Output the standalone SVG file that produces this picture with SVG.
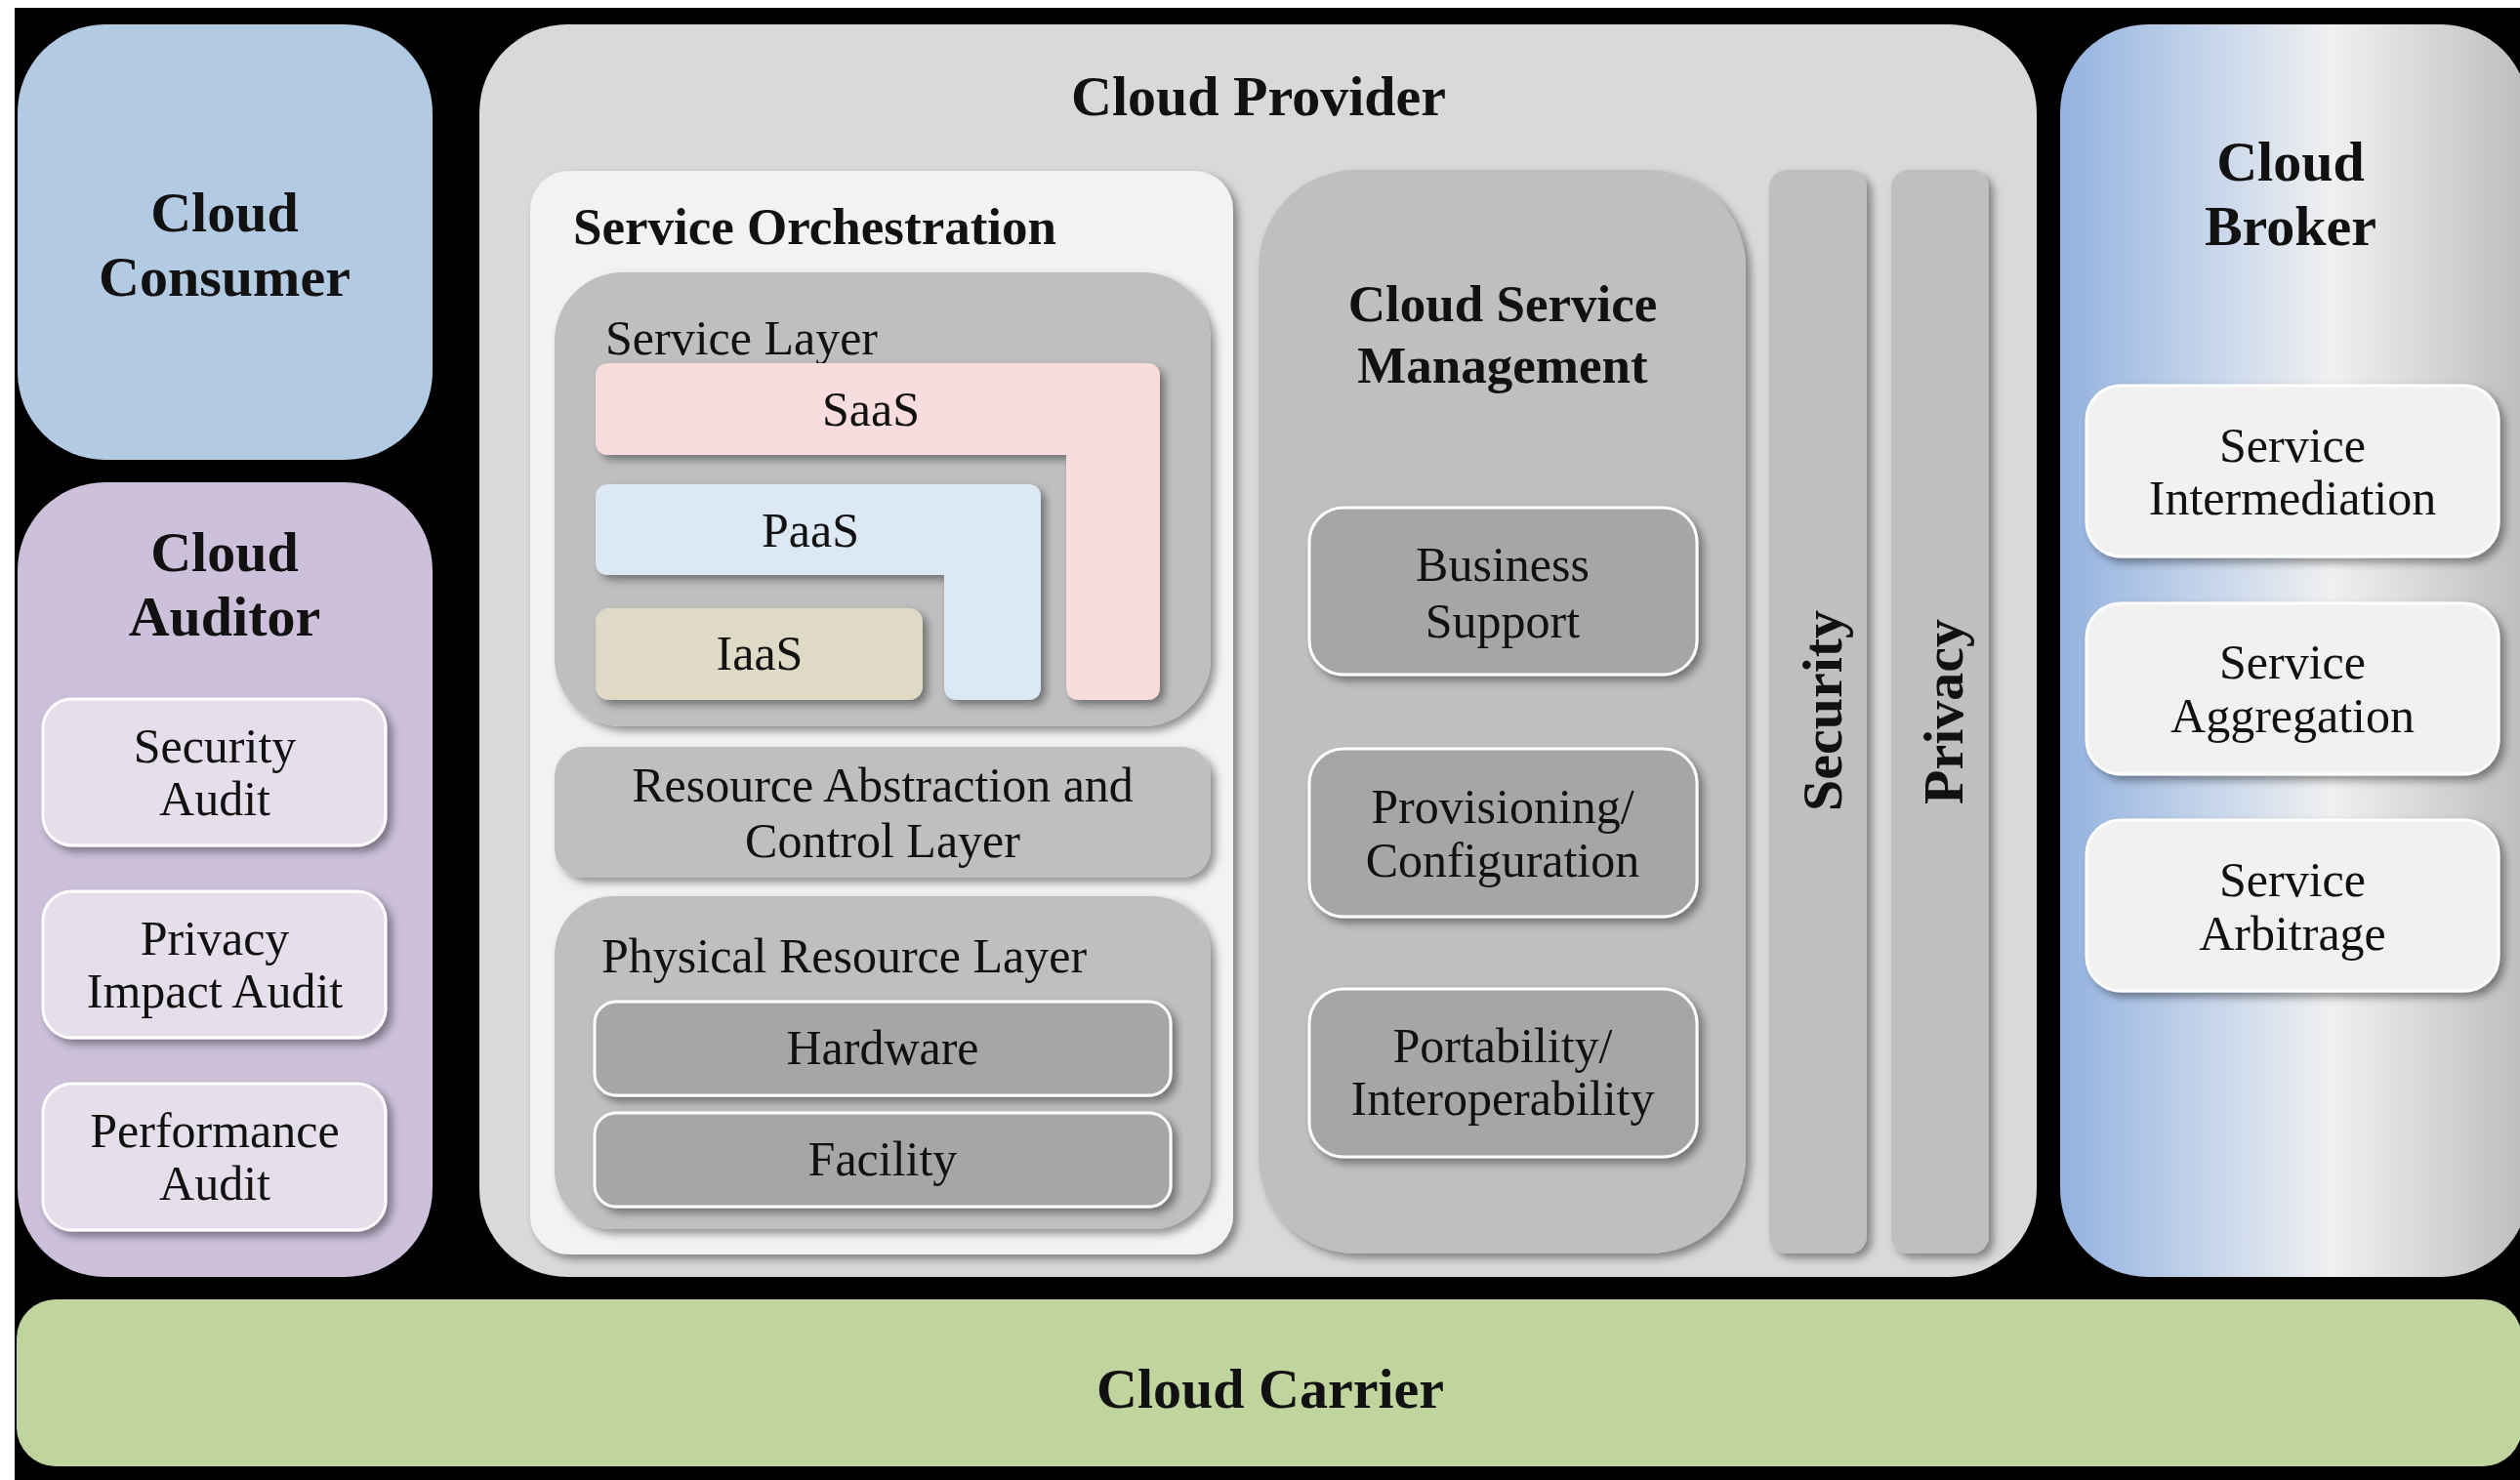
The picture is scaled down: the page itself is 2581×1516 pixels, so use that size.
<svg xmlns="http://www.w3.org/2000/svg" width="2581" height="1516" viewBox="0 0 2581 1516">
<defs>
<linearGradient id="brokerGrad" x1="0" y1="0" x2="1" y2="0">
<stop offset="0" stop-color="#93b2e0"/>
<stop offset="0.3" stop-color="#c3d3ea"/>
<stop offset="0.58" stop-color="#f0f0f0"/>
<stop offset="1" stop-color="#bcbcbc"/>
</linearGradient>
<filter id="sh" x="-10%" y="-10%" width="125%" height="125%">
<feDropShadow dx="5" dy="5" stdDeviation="4" flood-color="#000" flood-opacity="0.4"/>
</filter>
</defs>
<style>
.t{font-family:"Liberation Serif","Times New Roman",serif;fill:#111;}
.title{font-size:58px;font-weight:bold;text-anchor:middle;}
.bold{font-size:53px;font-weight:bold;}
.reg{font-size:50px;}
.mid{text-anchor:middle;}
.inner{filter:url(#sh);}
.wb{stroke:#ffffff;stroke-width:3;}
</style>
<rect x="0" y="0" width="2581" height="1516" fill="#ffffff"/>
<rect x="15" y="8" width="2566" height="1508" fill="#000000"/>

<g id="cloud-consumer">
<rect x="18" y="25" width="425" height="446" rx="90" fill="#b3cae3"/>
<text class="t title" x="230" y="237">Cloud</text>
<text class="t title" x="230" y="303">Consumer</text>
</g>

<g id="cloud-auditor">
<rect x="18" y="494" width="425" height="814" rx="90" fill="#ccc0da"/>
<text class="t title" x="230" y="585">Cloud</text>
<text class="t title" x="230" y="651">Auditor</text>
<g id="security-audit">
<rect class="inner wb" x="44" y="716" width="351" height="150" rx="30" fill="#e5dfec"/>
<text class="t reg mid" x="220" y="781">Security</text>
<text class="t reg mid" x="220" y="835">Audit</text>
</g>
<g id="privacy-impact-audit">
<rect class="inner wb" x="44" y="913" width="351" height="150" rx="30" fill="#e5dfec"/>
<text class="t reg mid" x="220" y="978">Privacy</text>
<text class="t reg mid" x="220" y="1032">Impact Audit</text>
</g>
<g id="performance-audit">
<rect class="inner wb" x="44" y="1110" width="351" height="150" rx="30" fill="#e5dfec"/>
<text class="t reg mid" x="220" y="1175">Performance</text>
<text class="t reg mid" x="220" y="1229">Audit</text>
</g>
</g>

<g id="cloud-provider">
<rect x="491" y="25" width="1595" height="1283" rx="90" fill="#d9d9d9"/>
<text class="t title" x="1289" y="118">Cloud Provider</text>

<g id="service-orchestration">
<rect class="inner" x="543" y="175" width="720" height="1110" rx="40" fill="#f2f2f2"/>
<text class="t bold" x="587" y="250">Service Orchestration</text>

<g id="service-layer">
<rect class="inner" x="568" y="279" width="672" height="465" rx="70" fill="#bfbfbf"/>
<text class="t reg" x="620" y="363">Service Layer</text>
<g id="saas">
<path class="inner" d="M 624 372 H 1174 Q 1188 372 1188 386 V 703 Q 1188 717 1174 717 H 1106 Q 1092 717 1092 703 V 466 H 624 Q 610 466 610 452 V 386 Q 610 372 624 372 Z" fill="#f9dcdd"/>
<text class="t reg mid" x="892" y="436">SaaS</text>
</g>
<g id="paas">
<path class="inner" d="M 624 496 H 1052 Q 1066 496 1066 510 V 703 Q 1066 717 1052 717 H 981 Q 967 717 967 703 V 589 H 624 Q 610 589 610 575 V 510 Q 610 496 624 496 Z" fill="#dce8f4"/>
<text class="t reg mid" x="830" y="560">PaaS</text>
</g>
<g id="iaas">
<rect class="inner" x="610" y="623" width="335" height="94" rx="14" fill="#dfdac5"/>
<text class="t reg mid" x="778" y="686">IaaS</text>
</g>
</g>

<g id="resource-abstraction">
<rect class="inner" x="568" y="765" width="672" height="134" rx="30" fill="#bfbfbf"/>
<text class="t reg mid" x="904" y="821">Resource Abstraction and</text>
<text class="t reg mid" x="904" y="878">Control Layer</text>
</g>

<g id="physical-resource-layer">
<rect class="inner" x="568" y="918" width="672" height="341" rx="60" fill="#bfbfbf"/>
<text class="t reg" x="616" y="996">Physical Resource Layer</text>
<g id="hardware">
<rect class="inner wb" x="609" y="1026" width="590" height="96" rx="22" fill="#a6a6a6"/>
<text class="t reg mid" x="904" y="1090">Hardware</text>
</g>
<g id="facility">
<rect class="inner wb" x="609" y="1140" width="590" height="96" rx="22" fill="#a6a6a6"/>
<text class="t reg mid" x="904" y="1204">Facility</text>
</g>
</g>
</g>

<g id="cloud-service-management">
<rect class="inner" x="1289" y="174" width="499" height="1110" rx="100" fill="#bfbfbf"/>
<text class="t bold mid" x="1539" y="329">Cloud Service</text>
<text class="t bold mid" x="1539" y="392">Management</text>
<g id="business-support">
<rect class="inner wb" x="1341" y="520" width="397" height="171" rx="35" fill="#a6a6a6"/>
<text class="t reg mid" x="1539" y="595">Business</text>
<text class="t reg mid" x="1539" y="653">Support</text>
</g>
<g id="provisioning-configuration">
<rect class="inner wb" x="1341" y="767" width="397" height="172" rx="35" fill="#a6a6a6"/>
<text class="t reg mid" x="1539" y="843">Provisioning/</text>
<text class="t reg mid" x="1539" y="898">Configuration</text>
</g>
<g id="portability-interoperability">
<rect class="inner wb" x="1341" y="1013" width="397" height="172" rx="35" fill="#a6a6a6"/>
<text class="t reg mid" x="1539" y="1088">Portability/</text>
<text class="t reg mid" x="1539" y="1142">Interoperability</text>
</g>
</g>

<g id="security">
<rect class="inner" x="1812" y="174" width="100" height="1110" rx="18" fill="#bfbfbf"/>
<text class="t title" transform="translate(1886,728) rotate(-90)" x="0" y="0">Security</text>
</g>
<g id="privacy">
<rect class="inner" x="1937" y="174" width="100" height="1110" rx="18" fill="#bfbfbf"/>
<text class="t title" transform="translate(2010,729) rotate(-90)" x="0" y="0">Privacy</text>
</g>
</g>

<g id="cloud-broker">
<rect x="2110" y="25" width="480" height="1283" rx="90" fill="url(#brokerGrad)"/>
<text class="t title" x="2346" y="185">Cloud</text>
<text class="t title" x="2346" y="251">Broker</text>
<g id="service-intermediation">
<rect class="inner wb" x="2137" y="395" width="422" height="175" rx="35" fill="#f1f1f1"/>
<text class="t reg mid" x="2348" y="473">Service</text>
<text class="t reg mid" x="2348" y="527">Intermediation</text>
</g>
<g id="service-aggregation">
<rect class="inner wb" x="2137" y="618" width="422" height="175" rx="35" fill="#f1f1f1"/>
<text class="t reg mid" x="2348" y="695">Service</text>
<text class="t reg mid" x="2348" y="750">Aggregation</text>
</g>
<g id="service-arbitrage">
<rect class="inner wb" x="2137" y="840" width="422" height="175" rx="35" fill="#f1f1f1"/>
<text class="t reg mid" x="2348" y="918">Service</text>
<text class="t reg mid" x="2348" y="973">Arbitrage</text>
</g>
</g>

<g id="cloud-carrier">
<rect x="17" y="1331" width="2566" height="171" rx="40" fill="#c0d49e"/>
<text class="t title" x="1301" y="1442">Cloud Carrier</text>
</g>

<g id="connectors"></g>
</svg>
